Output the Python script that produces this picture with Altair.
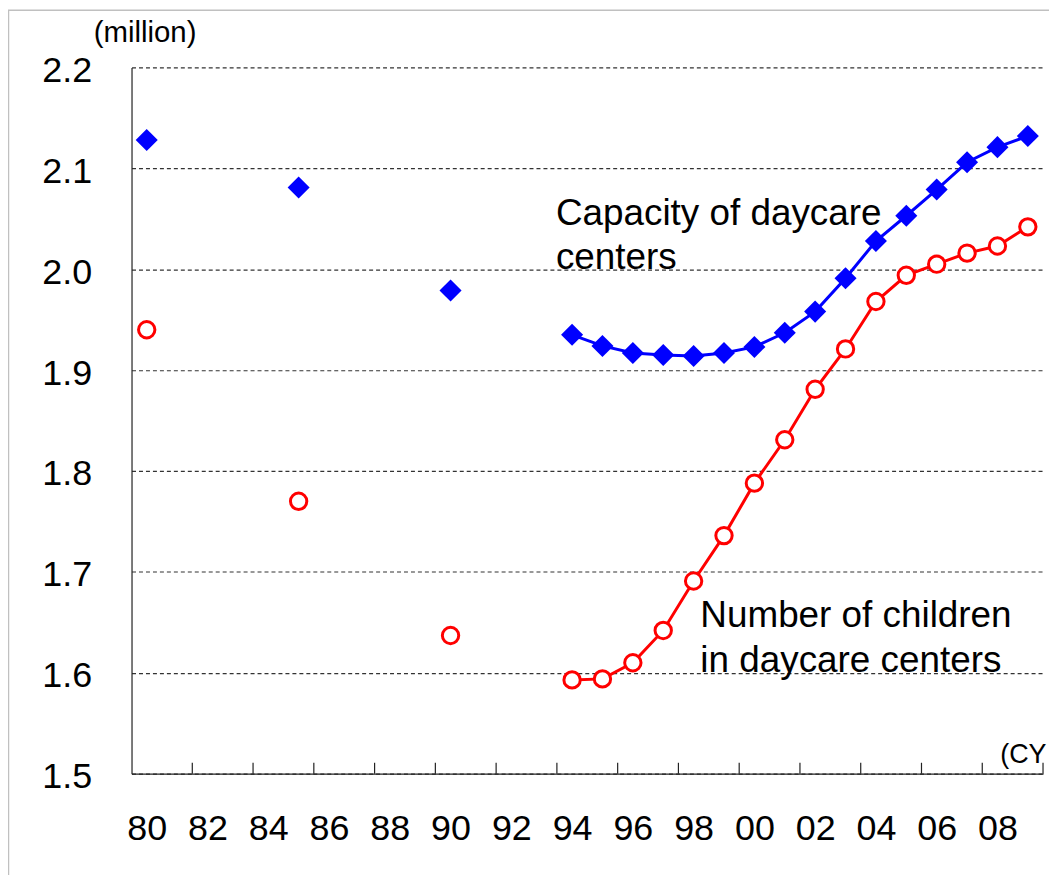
import altair as alt
import pandas as pd

# ---- data ----
years = [1980, 1985, 1990, 1994, 1995, 1996, 1997, 1998, 1999, 2000, 2001,
         2002, 2003, 2004, 2005, 2006, 2007, 2008, 2009]
capacity = [2.128, 2.081, 1.979, 1.935, 1.924, 1.917, 1.915, 1.914, 1.917,
            1.923, 1.937, 1.958, 1.991, 2.028, 2.053, 2.079, 2.106, 2.121, 2.132]
children = [1.940, 1.770, 1.637, 1.593, 1.594, 1.610, 1.642, 1.691, 1.736,
            1.788, 1.831, 1.881, 1.921, 1.968, 1.994, 2.005, 2.016, 2.023, 2.042]
label_years = list(range(1980, 2010, 2))
tick_bounds = [y + 0.5 for y in range(1981, 2010, 2)]
y_ticks = [1.5, 1.6, 1.7, 1.8, 1.9, 2.0, 2.1, 2.2]
line_start = 1994

FONT = "Liberation Sans"
BLUE = "#0000FF"
RED = "#FF0000"

cap_df = pd.DataFrame({"year": years, "value": capacity})
chi_df = pd.DataFrame({"year": years, "value": children})
tick_df = pd.DataFrame({"year": tick_bounds})


def x_enc(field="year"):
    return alt.X(
        f"{field}:Q",
        scale=alt.Scale(domain=[1979.5, 2009.5], nice=False, zero=False),
        axis=alt.Axis(
            values=label_years, format="d", labelExpr="substring(datum.label, 2)",
            ticks=False, grid=False, labelFontSize=36, labelPadding=38,
            labelFont=FONT, labelColor="#000000", labelFlush=False,
            labelOverlap=False, domainColor="#222222", domainWidth=1.2, title=None,
        ),
    )


def y_enc():
    return alt.Y(
        "value:Q",
        scale=alt.Scale(domain=[1.5, 2.2], nice=False, zero=False),
        axis=alt.Axis(
            values=y_ticks, format=".1f", ticks=False, grid=True,
            gridDash=[4, 3], gridColor="#333333", gridWidth=1.2,
            labelFontSize=36, labelPadding=40, labelFont=FONT,
            labelColor="#000000", labelOffset=3, labelOverlap=False,
            domainColor="#222222", domainWidth=1.2, title=None,
        ),
    )


frame = alt.Chart(pd.DataFrame({"k": [0]})).mark_rect(
    filled=False, stroke="#c0c0c0", strokeWidth=1.5
).encode(x=alt.value(-123.5), x2=alt.value(960), y=alt.value(-57.5), y2=alt.value(860))

cap_line = alt.Chart(cap_df).transform_filter(
    alt.datum.year >= line_start
).mark_line(color=BLUE, strokeWidth=3).encode(x=x_enc(), y=y_enc())

chi_line = alt.Chart(chi_df).transform_filter(
    alt.datum.year >= line_start
).mark_line(color=RED, strokeWidth=3).encode(x=x_enc(), y=y_enc())

cap_pts = alt.Chart(cap_df).mark_point(
    shape="diamond", filled=True, color=BLUE, size=490, opacity=1
).encode(x=x_enc(), y=y_enc())

chi_pts = alt.Chart(chi_df).mark_point(
    shape="circle", filled=True, fill="#FFFFFF", stroke=RED, strokeWidth=3,
    size=270, opacity=1
).encode(x=x_enc(), y=y_enc())

ticks = alt.Chart(tick_df).mark_rule(color="#222222", strokeWidth=1.2).encode(
    x=x_enc(), y=alt.value(698), y2=alt.value(709)
)

ann_cap = alt.Chart(pd.DataFrame({"t": ["Capacity of daycare\ncenters"]})).mark_text(
    align="left", baseline="alphabetic", fontSize=37, font=FONT, lineBreak="\n",
    lineHeight=44, color="#000000"
).encode(text="t:N", x=alt.value(426), y=alt.value(158))

ann_chi = alt.Chart(pd.DataFrame({"t": ["Number of children\nin daycare centers"]})).mark_text(
    align="left", baseline="alphabetic", fontSize=37, font=FONT, lineBreak="\n",
    lineHeight=45, color="#000000"
).encode(text="t:N", x=alt.value(571), y=alt.value(562))

unit_y = alt.Chart(pd.DataFrame({"t": ["(million)"]})).mark_text(
    align="left", baseline="alphabetic", fontSize=29.5, font=FONT, color="#000000"
).encode(text="t:N", x=alt.value(-38), y=alt.value(-26))

unit_x = alt.Chart(pd.DataFrame({"t": ["(CY"]})).mark_text(
    align="left", baseline="alphabetic", fontSize=27, font=FONT, color="#000000"
).encode(text="t:N", x=alt.value(872), y=alt.value(698))

chart = alt.layer(
    frame, cap_line, chi_line, cap_pts, chi_pts, ticks,
    ann_cap, ann_chi, unit_y, unit_x
).properties(
    width=915, height=709,
    autosize=alt.AutoSizeParams(type="none"),
    padding={"left": 124, "top": 58, "right": 6, "bottom": 100},
    background="#FFFFFF",
).configure_view(stroke=None)

chart.save("out.html", embed_options={"renderer": "svg", "actions": False})
